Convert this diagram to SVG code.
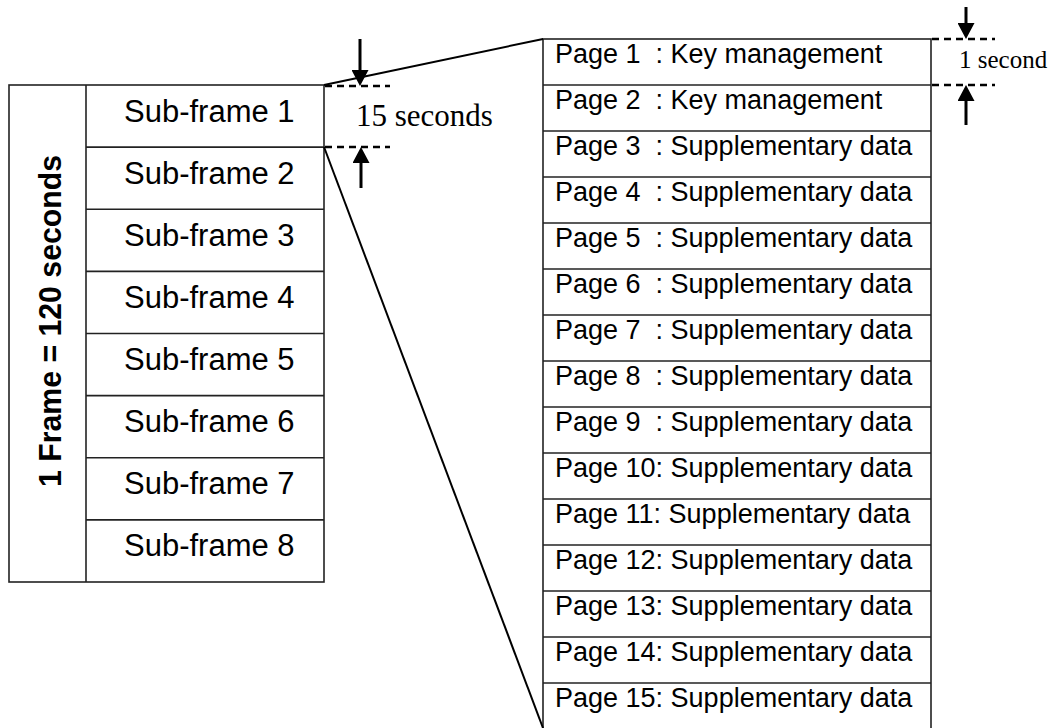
<svg xmlns="http://www.w3.org/2000/svg" width="1053" height="728" viewBox="0 0 1053 728">
<style>
.box{fill:#fff;stroke:#222;stroke-width:1.6}
.div{stroke:#222;stroke-width:1.6;fill:none}
.sf{font-family:"Liberation Sans",Arial,sans-serif;font-size:31px;fill:#000}
.pg{font-family:"Liberation Sans",Arial,sans-serif;font-size:27px;fill:#000;white-space:pre}
.title{font-family:"Liberation Sans",Arial,sans-serif;font-size:32px;font-weight:bold;fill:#000}
.dim{font-family:"Liberation Serif","Times New Roman",serif;fill:#000}
.conn{stroke:#000;stroke-width:2;fill:none}
.dash{stroke:#000;stroke-width:2.5;stroke-dasharray:7,5;fill:none}
.arr{stroke:#000;stroke-width:3;fill:none;marker-end:url(#ah)}
</style>
<defs>
<marker id="ah" markerUnits="userSpaceOnUse" viewBox="0 0 16 17" refX="0" refY="8.5" markerWidth="16" markerHeight="17" orient="auto">
<path d="M0,0 L16,8.5 L0,17 z" fill="#000"/>
</marker>
</defs>

<g id="frame">
<rect class="box" x="9" y="85" width="315" height="497"/>
<line class="div" x1="86" y1="85" x2="86" y2="582"/>
<text class="title" transform="translate(61,321) rotate(-90)" text-anchor="middle" textLength="332" lengthAdjust="spacingAndGlyphs">1 Frame = 120 seconds</text>
</g>

<g id="subframes">
<g id="sf1"><text class="sf" x="124" y="121.5">Sub-frame 1</text></g>
<line class="div" x1="86" y1="147.1" x2="324" y2="147.1"/>
<g id="sf2"><text class="sf" x="124" y="183.6">Sub-frame 2</text></g>
<line class="div" x1="86" y1="209.25" x2="324" y2="209.25"/>
<g id="sf3"><text class="sf" x="124" y="245.7">Sub-frame 3</text></g>
<line class="div" x1="86" y1="271.4" x2="324" y2="271.4"/>
<g id="sf4"><text class="sf" x="124" y="307.9">Sub-frame 4</text></g>
<line class="div" x1="86" y1="333.5" x2="324" y2="333.5"/>
<g id="sf5"><text class="sf" x="124" y="370">Sub-frame 5</text></g>
<line class="div" x1="86" y1="395.6" x2="324" y2="395.6"/>
<g id="sf6"><text class="sf" x="124" y="432.1">Sub-frame 6</text></g>
<line class="div" x1="86" y1="457.75" x2="324" y2="457.75"/>
<g id="sf7"><text class="sf" x="124" y="494.2">Sub-frame 7</text></g>
<line class="div" x1="86" y1="519.9" x2="324" y2="519.9"/>
<g id="sf8"><text class="sf" x="124" y="556.4">Sub-frame 8</text></g>
</g>

<g id="pages">
<rect class="box" x="543" y="39" width="388" height="690"/>
<g id="p1"><text class="pg" xml:space="preserve" x="555" y="63">Page 1  : Key management</text></g>
<line class="div" x1="543" y1="85" x2="931" y2="85"/>
<g id="p2"><text class="pg" xml:space="preserve" x="555" y="109">Page 2  : Key management</text></g>
<line class="div" x1="543" y1="131" x2="931" y2="131"/>
<g id="p3"><text class="pg" xml:space="preserve" x="555" y="155">Page 3  : Supplementary data</text></g>
<line class="div" x1="543" y1="177" x2="931" y2="177"/>
<g id="p4"><text class="pg" xml:space="preserve" x="555" y="201">Page 4  : Supplementary data</text></g>
<line class="div" x1="543" y1="223" x2="931" y2="223"/>
<g id="p5"><text class="pg" xml:space="preserve" x="555" y="247">Page 5  : Supplementary data</text></g>
<line class="div" x1="543" y1="269" x2="931" y2="269"/>
<g id="p6"><text class="pg" xml:space="preserve" x="555" y="293">Page 6  : Supplementary data</text></g>
<line class="div" x1="543" y1="315" x2="931" y2="315"/>
<g id="p7"><text class="pg" xml:space="preserve" x="555" y="339">Page 7  : Supplementary data</text></g>
<line class="div" x1="543" y1="361" x2="931" y2="361"/>
<g id="p8"><text class="pg" xml:space="preserve" x="555" y="385">Page 8  : Supplementary data</text></g>
<line class="div" x1="543" y1="407" x2="931" y2="407"/>
<g id="p9"><text class="pg" xml:space="preserve" x="555" y="431">Page 9  : Supplementary data</text></g>
<line class="div" x1="543" y1="453" x2="931" y2="453"/>
<g id="p10"><text class="pg" xml:space="preserve" x="555" y="477">Page 10: Supplementary data</text></g>
<line class="div" x1="543" y1="499" x2="931" y2="499"/>
<g id="p11"><text class="pg" xml:space="preserve" x="555" y="523">Page 11: Supplementary data</text></g>
<line class="div" x1="543" y1="545" x2="931" y2="545"/>
<g id="p12"><text class="pg" xml:space="preserve" x="555" y="569">Page 12: Supplementary data</text></g>
<line class="div" x1="543" y1="591" x2="931" y2="591"/>
<g id="p13"><text class="pg" xml:space="preserve" x="555" y="615">Page 13: Supplementary data</text></g>
<line class="div" x1="543" y1="637" x2="931" y2="637"/>
<g id="p14"><text class="pg" xml:space="preserve" x="555" y="661">Page 14: Supplementary data</text></g>
<line class="div" x1="543" y1="683" x2="931" y2="683"/>
<g id="p15"><text class="pg" xml:space="preserve" x="555" y="707">Page 15: Supplementary data</text></g>
</g>

<g id="connectors">
<line class="conn" x1="324" y1="85" x2="543" y2="39"/>
<line class="conn" x1="324" y1="147" x2="543" y2="728"/>
</g>

<g id="dim15">
<line class="dash" x1="325" y1="86" x2="390" y2="86"/>
<line class="dash" x1="325" y1="147" x2="390" y2="147"/>
<line class="arr" x1="360" y1="39" x2="360" y2="70"/>
<line class="arr" x1="361" y1="188" x2="361" y2="163"/>
<text class="dim" x="356" y="126" font-size="31">15 seconds</text>
</g>

<g id="dim1">
<line class="dash" x1="932" y1="39" x2="995" y2="39"/>
<line class="dash" x1="932" y1="85" x2="995" y2="85"/>
<line class="arr" x1="966" y1="7" x2="966" y2="23"/>
<line class="arr" x1="966" y1="125" x2="966" y2="101"/>
<text class="dim" x="959" y="68" font-size="25">1 second</text>
</g>
</svg>
